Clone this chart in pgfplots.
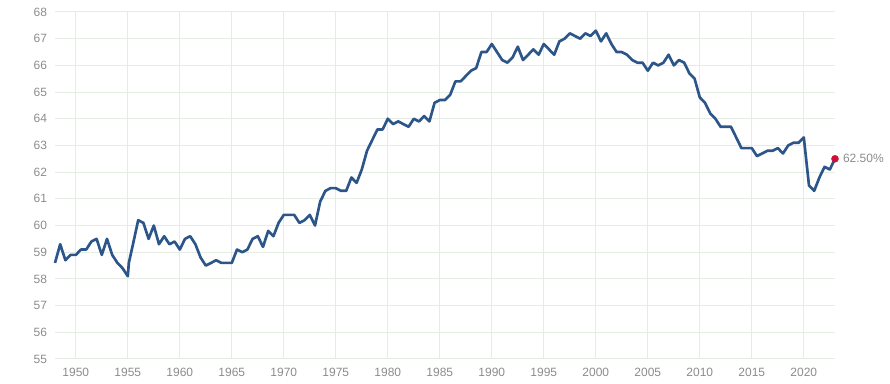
\documentclass[border=0pt]{standalone}
\usepackage{fontspec}
\setmainfont{Liberation Sans}
\usepackage{pgfplots}
\usepackage{pgfplotstable}
\pgfplotsset{compat=1.18}
\definecolor{linec}{RGB}{44,86,138}
\definecolor{gridc}{RGB}{228,236,228}
\definecolor{tickc}{RGB}{138,140,138}
\definecolor{dotc}{RGB}{208,16,52}
\pgfplotstableread{
year val
1948.0 58.6
1948.5 59.3
1949.0 58.7
1949.5 58.9
1950.0 58.9
1950.5 59.1
1951.0 59.1
1951.5 59.4
1952.0 59.5
1952.5 58.9
1953.0 59.5
1953.5 58.9
1954.0 58.6
1954.5 58.4
1955.0 58.1
1955.1 58.6
1955.5 59.3
1956.0 60.2
1956.5 60.1
1957.0 59.5
1957.5 60.0
1958.0 59.3
1958.5 59.6
1959.0 59.3
1959.5 59.4
1960.0 59.1
1960.5 59.5
1961.0 59.6
1961.5 59.3
1962.0 58.8
1962.5 58.5
1963.0 58.6
1963.5 58.7
1964.0 58.6
1964.5 58.6
1965.0 58.6
1965.5 59.1
1966.0 59.0
1966.5 59.1
1967.0 59.5
1967.5 59.6
1968.0 59.2
1968.5 59.8
1969.0 59.6
1969.5 60.1
1970.0 60.4
1970.5 60.4
1971.0 60.4
1971.5 60.1
1972.0 60.2
1972.5 60.4
1973.0 60.0
1973.5 60.9
1974.0 61.3
1974.5 61.4
1975.0 61.4
1975.5 61.3
1976.0 61.3
1976.5 61.8
1977.0 61.6
1977.5 62.1
1978.0 62.8
1978.5 63.2
1979.0 63.6
1979.5 63.6
1980.0 64.0
1980.5 63.8
1981.0 63.9
1981.5 63.8
1982.0 63.7
1982.5 64.0
1983.0 63.9
1983.5 64.1
1984.0 63.9
1984.5 64.6
1985.0 64.7
1985.5 64.7
1986.0 64.9
1986.5 65.4
1987.0 65.4
1987.5 65.6
1988.0 65.8
1988.5 65.9
1989.0 66.5
1989.5 66.5
1990.0 66.8
1990.5 66.5
1991.0 66.2
1991.5 66.1
1992.0 66.3
1992.5 66.7
1993.0 66.2
1993.5 66.4
1994.0 66.6
1994.5 66.4
1995.0 66.8
1995.5 66.6
1996.0 66.4
1996.5 66.9
1997.0 67.0
1997.5 67.2
1998.0 67.1
1998.5 67.0
1999.0 67.2
1999.5 67.1
2000.0 67.3
2000.5 66.9
2001.0 67.2
2001.5 66.8
2002.0 66.5
2002.5 66.5
2003.0 66.4
2003.5 66.2
2004.0 66.1
2004.5 66.1
2005.0 65.8
2005.5 66.1
2006.0 66.0
2006.5 66.1
2007.0 66.4
2007.5 66.0
2008.0 66.2
2008.5 66.1
2009.0 65.7
2009.5 65.5
2010.0 64.8
2010.5 64.6
2011.0 64.2
2011.5 64.0
2012.0 63.7
2012.5 63.7
2013.0 63.7
2013.5 63.3
2014.0 62.9
2014.5 62.9
2015.0 62.9
2015.5 62.6
2016.0 62.7
2016.5 62.8
2017.0 62.8
2017.5 62.9
2018.0 62.7
2018.5 63.0
2019.0 63.1
2019.5 63.1
2020.0 63.3
2020.5 61.5
2021.0 61.3
2021.5 61.8
2022.0 62.2
2022.5 62.1
2023.0 62.5
}\lfpr
\begin{document}
\begin{tikzpicture}[x=1pt,y=1pt]
\useasboundingbox (-41.25,-18.75) rectangle (626.25,269.25);
\begin{axis}[
  at={(0,0)}, anchor=south west,
  scale only axis, width=585pt, height=260.25pt,
  xmin=1948, xmax=2023, ymin=55, ymax=68,
  xtick={1950,1955,...,2020}, ytick={55,56,...,68},
  axis line style={draw=none},
  major tick length=0pt,
  grid=major,
  major grid style={draw=gridc, line width=0.75pt},
  tick label style={font=\fontsize{9}{11}\selectfont, text=tickc},
  /pgf/number format/assume math mode=true,
  /pgf/number format/1000 sep={},
  yticklabel style={xshift=-2.5pt},
  xticklabel style={yshift=-3.5pt},
  clip=false,
]
\addplot[color=linec, line width=2pt, line join=round, mark=none] table[x=year,y=val] {\lfpr};
\addplot[only marks, mark=*, mark size=2.6pt, color=dotc] coordinates {(2023,62.5)};
\node[anchor=west, xshift=2.5pt, text=tickc, font=\fontsize{9}{11}\selectfont] at (axis cs:2023,62.5) {62.50\%};
\end{axis}
\end{tikzpicture}
\end{document}
